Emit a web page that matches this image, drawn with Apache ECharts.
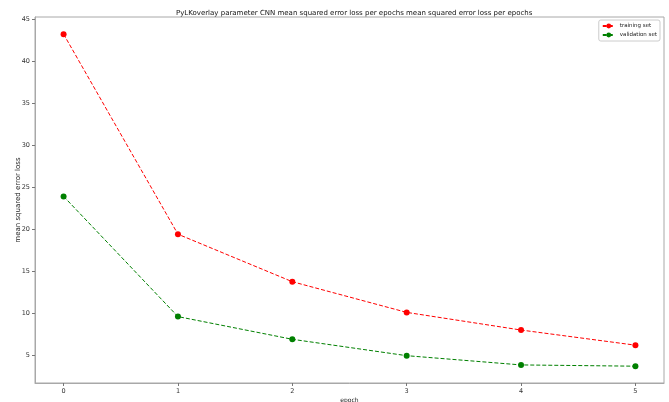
<!DOCTYPE html>
<html>
<head>
<meta charset="utf-8">
<script src="https://cdn.jsdelivr.net/npm/echarts@6/dist/echarts.min.js"></script>
<style>
  html, body { margin: 0; padding: 0; background: #fff; }
  #chart { width: 669px; height: 402px; }
</style>
</head>
<body>
<div id="chart"></div>
<script>
// Loss history per epoch
const epochs = [0, 1, 2, 3, 4, 5];
const trainingLoss = [43.2, 19.4, 13.75, 10.1, 8.0, 6.2];
const validationLoss = [23.9, 9.6, 6.9, 4.95, 3.85, 3.7];
const xTicks = [0, 1, 2, 3, 4, 5];
const yTicks = [5, 10, 15, 20, 25, 30, 35, 40, 45];

const FONT = 'DejaVu Sans';
const chart = echarts.init(document.getElementById('chart'), null, { renderer: 'canvas' });

const pairs = (ys) => epochs.map((x, i) => [x, ys[i]]);

chart.setOption({
  animation: false,
  backgroundColor: '#fff',
  title: {
    text: 'PyLKoverlay parameter CNN mean squared error loss per epochs mean squared error loss per epochs',
    left: 171,
    top: 5,
    textStyle: { fontFamily: FONT, fontSize: 7, fontWeight: 'normal', color: '#111' }
  },
  legend: {
    orient: 'vertical',
    right: 9,
    top: 20,
    padding: [3, 3, 3, 3],
    itemGap: 3,
    itemWidth: 12,
    itemHeight: 6,
    borderColor: '#cccccc',
    borderWidth: 1,
    borderRadius: 2,
    textStyle: { fontFamily: FONT, fontSize: 5.5, color: '#222' },
    data: ['training set', 'validation set']
  },
  grid: {
    left: 35, right: 5, top: 17, bottom: 19,
    outerBoundsMode: 'none',
    show: true,
    borderColor: '#a8a8a8',
    borderWidth: 1
  },
  xAxis: {
    type: 'value',
    min: -0.25,
    max: 5.25,
    name: 'epoch',
    nameLocation: 'middle',
    nameGap: 14,
    nameMoveOverlap: false,
    nameTextStyle: { fontFamily: FONT, fontSize: 6, color: '#222' },
    axisLine: { show: true, onZero: false, lineStyle: { color: '#a8a8a8' } },
    axisTick: { show: true, length: 3, customValues: xTicks, lineStyle: { color: '#777' } },
    axisLabel: { customValues: xTicks, fontFamily: FONT, fontSize: 6.5, color: '#333', margin: 5 },
    splitLine: { show: false }
  },
  yAxis: {
    type: 'value',
    min: 1.7,
    max: 45.24,
    name: 'mean squared error loss',
    nameLocation: 'middle',
    nameGap: 13,
    nameMoveOverlap: false,
    nameTextStyle: { fontFamily: FONT, fontSize: 7, color: '#222' },
    axisLine: { show: true, onZero: false, lineStyle: { color: '#a8a8a8' } },
    axisTick: { show: true, length: 3, customValues: yTicks, lineStyle: { color: '#777' } },
    axisLabel: { customValues: yTicks, fontFamily: FONT, fontSize: 6.5, color: '#333', margin: 5 },
    splitLine: { show: false }
  },
  series: [
    {
      name: 'training set',
      type: 'line',
      data: pairs(trainingLoss),
      symbol: 'circle',
      symbolSize: 6,
      itemStyle: { color: '#ff0000' },
      lineStyle: { color: '#ff0000', width: 1, type: [4, 2] }
    },
    {
      name: 'validation set',
      type: 'line',
      data: pairs(validationLoss),
      symbol: 'circle',
      symbolSize: 6,
      itemStyle: { color: '#008000' },
      lineStyle: { color: '#008000', width: 1, type: [4, 2] }
    }
  ]
});
</script>
</body>
</html>
